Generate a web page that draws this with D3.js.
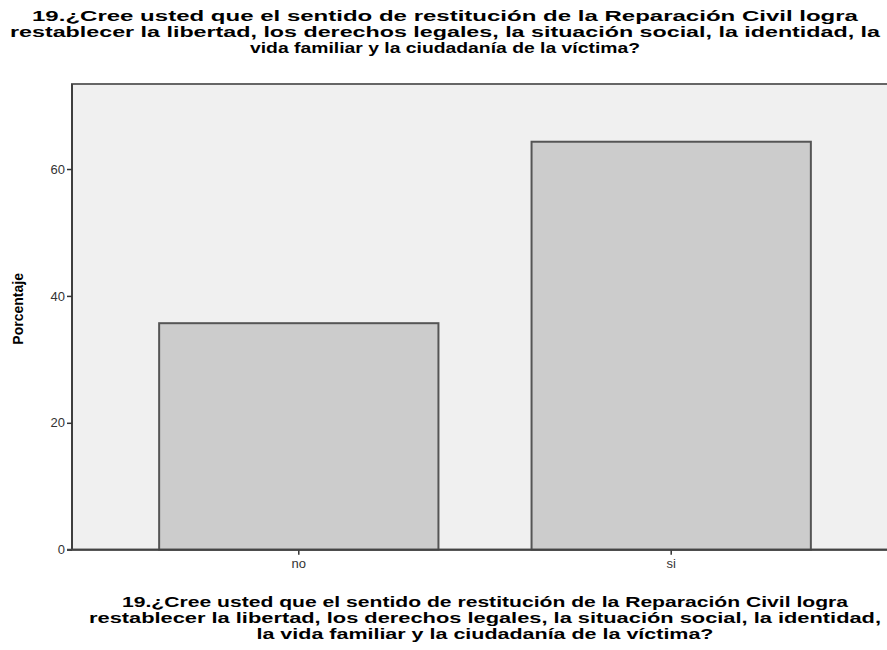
<!DOCTYPE html>
<html>
<head>
<meta charset="utf-8">
<script src="https://cdn.jsdelivr.net/npm/d3@7"></script>
<style>
  body { margin: 0; background: #fff; }
  svg { display: block; font-family: "Liberation Sans", Arial, sans-serif; }
</style>
</head>
<body>
<div id="chart"></div>
<script>
// Data
const categories = ["no", "si"];
const percentages = [35.7, 64.3];
const yTicks = [0, 20, 40, 60];
const titleLines = [
  "19.¿Cree usted que el sentido de restitución de la Reparación Civil logra",
  "restablecer la libertad, los derechos legales, la situación social, la identidad, la",
  "vida familiar y la ciudadanía de la víctima?"
];
const xTitleLines = [
  "19.¿Cree usted que el sentido de restitución de la Reparación Civil logra",
  "restablecer la libertad, los derechos legales, la situación social, la identidad,",
  "la vida familiar y la ciudadanía de la víctima?"
];

const width = 887;
const height = 650;
const plot = { left: 72, right: 898, top: 84, bottom: 549.7 };

const svg = d3
  .select("#chart")
  .append("svg")
  .attr("width", width)
  .attr("height", height);

const x = d3
  .scaleBand()
  .domain(categories)
  .range([plot.left, plot.right])
  .paddingInner(0.25)
  .paddingOuter(0.234);

const y = d3
  .scaleLinear()
  .domain([0, 73.4])
  .range([plot.bottom, plot.top]);

// Plot background
svg
  .append("rect")
  .attr("x", plot.left)
  .attr("y", plot.top)
  .attr("width", plot.right - plot.left)
  .attr("height", plot.bottom - plot.top)
  .style("fill", "#f0f0f0")
  .style("stroke", "#666")
  .style("stroke-width", 2);

// Bars
svg
  .selectAll(".bar")
  .data(categories)
  .enter()
  .append("rect")
  .attr("class", "bar")
  .attr("x", (d) => x(d))
  .attr("y", (d, i) => y(percentages[i]))
  .attr("width", x.bandwidth())
  .attr("height", (d, i) => plot.bottom - y(percentages[i]))
  .style("fill", "#cccccc")
  .style("stroke", "#555")
  .style("stroke-width", 2);

// Y axis
const yAxis = svg
  .append("g")
  .attr("transform", `translate(${plot.left},0)`)
  .call(d3.axisLeft(y).tickValues(yTicks).tickSize(5).tickPadding(2));
yAxis.select(".domain").remove();
yAxis.selectAll("line").style("stroke", "#333").style("stroke-width", 1.5);
yAxis
  .selectAll("text")
  .style("font-size", "13px")
  .style("fill", "#333")
  .style("font-family", "Liberation Sans, Arial, sans-serif");
svg
  .append("line")
  .attr("x1", plot.left)
  .attr("x2", plot.left)
  .attr("y1", plot.top)
  .attr("y2", plot.bottom)
  .style("stroke", "#333")
  .style("stroke-width", 1.5);

// X axis
const xAxis = svg
  .append("g")
  .attr("transform", `translate(0,${plot.bottom})`)
  .call(d3.axisBottom(x).tickSize(5).tickPadding(4));
xAxis.select(".domain").remove();
xAxis.selectAll("line").style("stroke", "#333").style("stroke-width", 1.5);
xAxis
  .selectAll("text")
  .style("font-size", "13px")
  .style("fill", "#333")
  .style("font-family", "Liberation Sans, Arial, sans-serif");
svg
  .append("line")
  .attr("x1", plot.left - 5)
  .attr("x2", plot.right)
  .attr("y1", plot.bottom)
  .attr("y2", plot.bottom)
  .style("stroke", "#444")
  .style("stroke-width", 2);

// Y label
svg
  .append("text")
  .attr("transform", `translate(23,${(plot.top + plot.bottom) / 2 - 8}) rotate(-90)`)
  .attr("text-anchor", "middle")
  .style("font-size", "14px")
  .style("font-weight", "bold")
  .text("Porcentaje");

// Titles, squeezed to the widths seen in the picture
const topWidths = [826, 870, 390];
svg
  .selectAll(".title")
  .data(titleLines)
  .enter()
  .append("text")
  .attr("class", "title")
  .attr("x", 445)
  .attr("y", (d, i) => 21 + i * 16)
  .attr("text-anchor", "middle")
  .attr("textLength", (d, i) => topWidths[i])
  .attr("lengthAdjust", "spacingAndGlyphs")
  .style("font-size", "15px")
  .style("font-weight", "bold")
  .text((d) => d);

const bottomWidths = [726, 792, 457];
svg
  .selectAll(".xtitle")
  .data(xTitleLines)
  .enter()
  .append("text")
  .attr("class", "xtitle")
  .attr("x", 485)
  .attr("y", (d, i) => 607 + i * 16)
  .attr("text-anchor", "middle")
  .attr("textLength", (d, i) => bottomWidths[i])
  .attr("lengthAdjust", "spacingAndGlyphs")
  .style("font-size", "15px")
  .style("font-weight", "bold")
  .text((d) => d);
</script>
</body>
</html>
